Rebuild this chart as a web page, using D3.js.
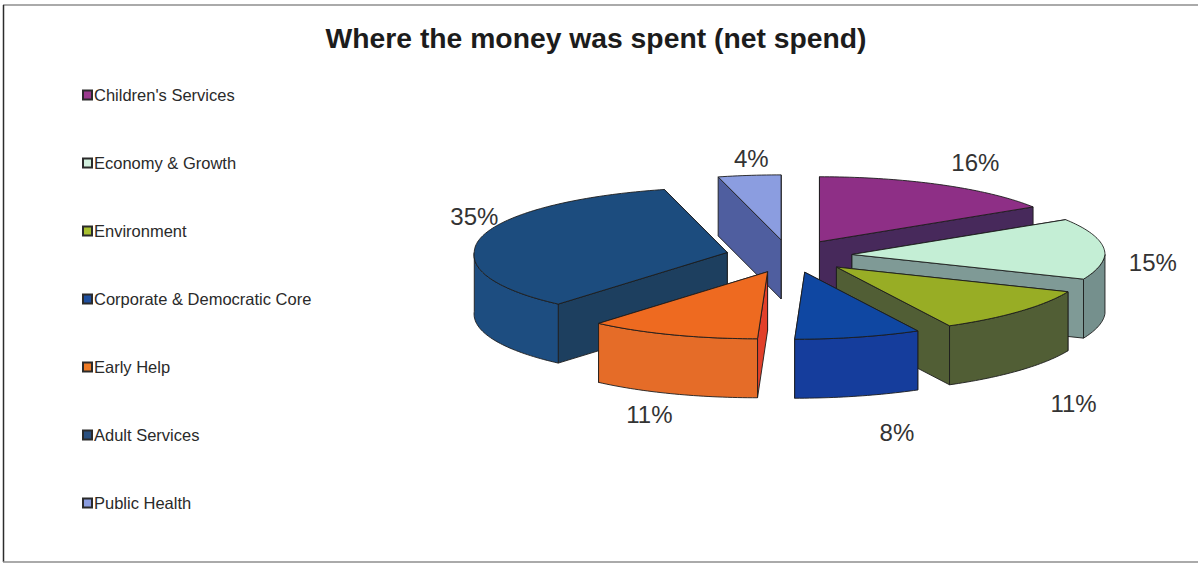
<!DOCTYPE html>
<html>
<head>
<meta charset="utf-8">
<style>
  html, body { margin: 0; padding: 0; background: #fff; }
  svg { display: block; }
  text { font-family: "Liberation Sans", Arial, sans-serif; }
</style>
<script src="https://d3js.org/d3.v7.min.js"></script>
</head>
<body>
<svg id="chart" width="1198" height="563"></svg>
<script>
// Net spend by service area, in drawing order around the pie.
const categories = ["Children's Services", "Economy & Growth", "Environment",
  "Corporate & Democratic Core", "Early Help", "Adult Services", "Public Health"];
const shares = [16, 15, 11, 8, 11, 35, 4];

// Fill colours per category: top face, cut faces, outer rim.
const topColours = ["#8e2f86", "#c4eed5", "#98ad25", "#0f47a2", "#ee6a20", "#1c4c7e", "#8b9de0"];
const cutColours = ["#47295b", "#7f9a96", "#515e35", "#143a98", "#e2402a", "#1d3f5f", "#4f5e9f"];
const rimColours = ["#47295b", "#75908d", "#515e35", "#153d9c", "#e56c28", "#1d4d80", "#4f5e9f"];
const swatchColours = ["#9a3a8e", "#d2f0de", "#a8c030", "#1f4f9e", "#ee7a25", "#2a5080", "#8b9de0"];

// Painter's order: slices further back are drawn first.
const paintOrder = [6, 0, 5, 1, 2, 4, 3];

// Label nudges from each slice's rim midpoint.
const labelNudge = [[34, -22], [49, 14], [54, 92], [39, 95], [-23, 80], [-6, -22], [2, -17]];

const svg = d3.select("#chart");

// Page frame, open on the right.
const frame = svg.append("g").attr("fill", "none");
frame.append("line").attr("x1", 3).attr("x2", 1198).attr("y1", 5).attr("y2", 5)
  .attr("stroke", "#8e8e8e").attr("stroke-width", 1.5);
frame.append("line").attr("x1", 3.5).attr("x2", 3.5).attr("y1", 5).attr("y2", 562)
  .attr("stroke", "#2c2c2c").attr("stroke-width", 1.5);
frame.append("line").attr("x1", 3).attr("x2", 1198).attr("y1", 562).attr("y2", 562)
  .attr("stroke", "#8e8e8e").attr("stroke-width", 1.5);

svg.append("text")
  .attr("x", 596).attr("y", 48)
  .attr("text-anchor", "middle")
  .attr("font-size", 28.3).attr("font-weight", "bold").attr("fill", "#1c1c1c")
  .text("Where the money was spent (net spend)");

// Legend column.
const legendY = d3.scalePoint().domain(categories).range([95, 503]);
const legend = svg.append("g").selectAll("g").data(categories).join("g")
  .attr("transform", d => `translate(0,${legendY(d)})`);
legend.append("rect")
  .attr("x", 83).attr("y", -4.5).attr("width", 9).attr("height", 9)
  .attr("fill", (d, i) => swatchColours[i])
  .attr("stroke", "#2b2b2b").attr("stroke-width", 2);
legend.append("text")
  .attr("x", 94).attr("y", 5.5)
  .attr("font-size", 16.5).attr("fill", "#2a2a2a")
  .text(d => d);

// Tilted-pie projection: planar pie coordinates to screen coordinates.
// The near half of the ellipse is drawn a little deeper than the far half.
const radius = 253, explode = 0.25, depth = 59, shear = 0.15;
const centre = { x: 789, y: 256 };
const unitX = d3.scaleLinear().domain([-1, 1]).range([-radius, radius]);
const unitY = d3.scaleLinear().domain([-1, 0, 1]).range([67, 0, -65]);

const slices = d3.pie().value(d => d).sort(null)(shares);

function apexOf(s) {
  const mid = (s.startAngle + s.endAngle) / 2;
  return {
    x: centre.x + explode * unitX(Math.sin(mid)),
    y: centre.y + explode * unitY(Math.cos(mid))
  };
}
// Point on a slice's rim; the near half of the pie leans slightly left.
function rimPoint(s, a) {
  const apex = apexOf(s);
  const dy = unitY(Math.cos(a));
  return [apex.x + unitX(Math.sin(a)) - shear * Math.max(0, dy), apex.y + dy];
}
function rimPoints(s, from, to) {
  const n = Math.max(2, Math.ceil((to - from) / 0.02));
  return d3.range(n + 1).map(k => rimPoint(s, from + (to - from) * k / n));
}
const path = d3.line().curve(d3.curveLinear);
const drop = pts => pts.map(([x, y]) => [x, y + depth]).reverse();

const pieGroup = svg.append("g")
  .attr("stroke", "#1d1d1d").attr("stroke-width", 0.9).attr("stroke-linejoin", "round");

paintOrder.forEach(i => {
  const s = slices[i];
  const apex = apexOf(s);
  const a0 = [apex.x, apex.y];
  const g = pieGroup.append("g");

  // Cut faces, rear one first.
  [s.startAngle, s.endAngle]
    .map(a => ({ a, p: rimPoint(s, a) }))
    .sort((u, v) => u.p[1] - v.p[1])
    .forEach(({ p }) => {
      const edge = [a0, p];
      g.append("path").attr("d", path([...edge, ...drop(edge)]) + "Z").attr("fill", cutColours[i]);
    });

  // Outer rim, only where it faces the viewer.
  const from = Math.max(s.startAngle, Math.PI / 2);
  const to = Math.min(s.endAngle, 3 * Math.PI / 2);
  if (to > from) {
    const arc = rimPoints(s, from, to);
    g.append("path").attr("d", path([...arc, ...drop(arc)]) + "Z").attr("fill", rimColours[i]);
  }

  // Top face.
  g.append("path")
    .attr("d", path([a0, ...rimPoints(s, s.startAngle, s.endAngle)]) + "Z")
    .attr("fill", topColours[i]);
});

// Percentage labels beside each slice.
svg.append("g").selectAll("text").data(slices).join("text")
  .attr("x", (s, i) => rimPoint(s, (s.startAngle + s.endAngle) / 2)[0] + labelNudge[i][0])
  .attr("y", (s, i) => rimPoint(s, (s.startAngle + s.endAngle) / 2)[1] + labelNudge[i][1])
  .attr("dy", "0.35em")
  .attr("text-anchor", "middle")
  .attr("font-size", 24).attr("fill", "#333")
  .text(s => `${s.value}%`);
</script>
</body>
</html>
